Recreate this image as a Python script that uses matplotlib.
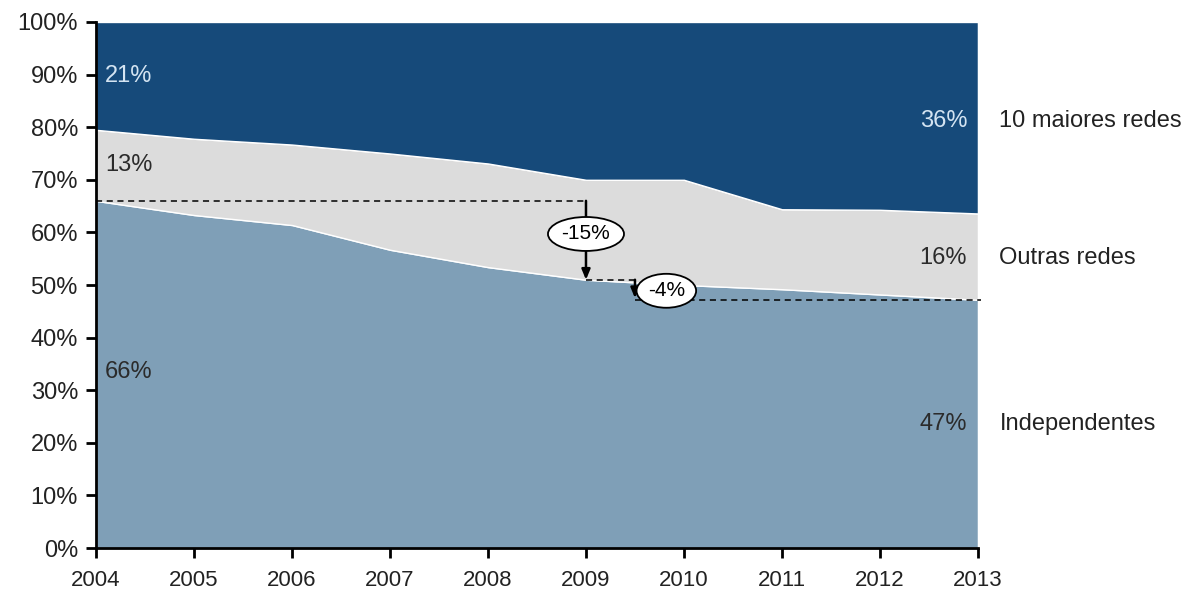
import matplotlib
matplotlib.use('Agg')
from matplotlib import pyplot as plt
from matplotlib import ticker

# data (% share)
years = [2004, 2005, 2006, 2007, 2008, 2009, 2010, 2011, 2012, 2013]
independentes = [66.0, 63.3, 61.4, 56.7, 53.4, 51.0, 50.0, 49.2, 48.2, 47.2]
outras_redes = [13.5, 14.5, 15.3, 18.3, 19.7, 19.0, 20.0, 15.2, 16.1, 16.4]
maiores_redes = [20.5, 22.2, 23.3, 25.0, 26.9, 30.0, 30.0, 35.6, 35.7, 36.4]

series_names = ['Independentes', 'Outras redes', '10 maiores redes']
start_labels = ['66%', '13%', '21%']
end_labels = ['47%', '16%', '36%']
change_labels = ['-15%', '-4%']

colors = ['#7f9fb7', '#dcdcdc', '#164a7a']
label_colors = ['#2b2b2b', '#2b2b2b', '#d4e4f2']

plt.rcParams['font.family'] = ['Liberation Sans', 'DejaVu Sans']
font_size = 17

fig = plt.figure(figsize=(11.9, 5.94), dpi=100)
ax = fig.add_axes([0.0807, 0.0774, 0.7411, 0.8856])

ax.stackplot(years, independentes, outras_redes, maiores_redes,
             colors=colors, edgecolor='white', linewidth=1)

ax.set_xlim(years[0], years[-1])
ax.set_ylim(0, 100)
ax.set_xticks(years)
ax.set_yticks(range(0, 101, 10))
ax.yaxis.set_major_formatter(ticker.FuncFormatter(lambda v, p: '%d%%' % v))
ax.tick_params(axis='both', colors='black', length=7, width=2,
               direction='out', labelcolor='#222222')
ax.tick_params(axis='y', labelsize=17, pad=6)
ax.tick_params(axis='x', labelsize=16, pad=9)
for side in ['top', 'right']:
    ax.spines[side].set_visible(False)
for side in ['left', 'bottom']:
    ax.spines[side].set_linewidth(2)

# value labels at both ends
start_y = [33.5, 72.8, 89.7]
end_y = [23.6, 55.1, 81.2]
for i in range(3):
    ax.text(years[0] + 0.09, start_y[i], start_labels[i], fontsize=font_size,
            color=label_colors[i], va='center', ha='left')
    ax.text(years[-1] - 0.11, end_y[i], end_labels[i], fontsize=font_size,
            color=label_colors[i], va='center', ha='right')
    ax.text(years[-1] + 0.22, end_y[i], series_names[i], fontsize=font_size,
            color='#222222', va='center', ha='left', clip_on=False)

# change annotations
y0 = independentes[0]
y1 = independentes[5]
y2 = independentes[-1]
x_mid = 2009.5
dash = dict(color='black', linestyle=(0, (4, 3)), linewidth=1.1)
ax.plot([years[0], years[5]], [y0, y0], **dash)
ax.plot([years[5], x_mid], [y1, y1], **dash)
ax.plot([x_mid, years[-1] + 0.03], [y2, y2], clip_on=False, **dash)

arrow = dict(arrowstyle='-|>,head_length=0.6,head_width=0.25', color='black', lw=1.8,
             shrinkA=0, shrinkB=0)
ax.annotate('', xy=(years[5], y1), xytext=(years[5], y0), arrowprops=arrow)
ax.annotate('', xy=(x_mid, y2 + 0.3), xytext=(x_mid, y1), arrowprops=arrow)

box = dict(boxstyle='ellipse,pad=0.12', fc='white', ec='black', lw=1.3)
ax.text(years[5], 59.7, change_labels[0], fontsize=15, ha='center', va='center', bbox=box)
ax.text(2009.82, 48.9, change_labels[1], fontsize=15, ha='center', va='center', bbox=box)

fig.savefig('out.png', dpi=100)
